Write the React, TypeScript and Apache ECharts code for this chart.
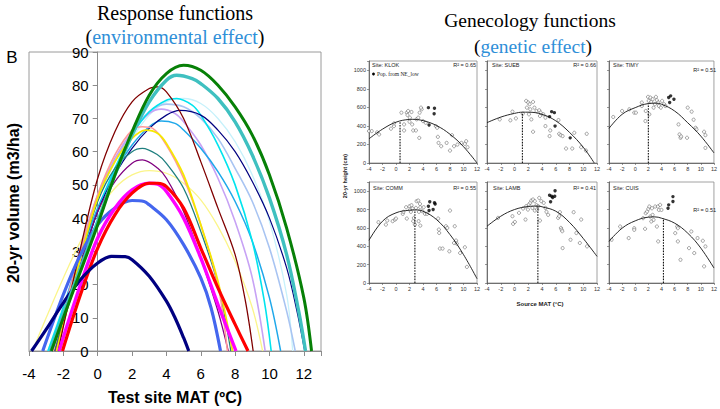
import React, { useEffect, useRef } from 'react';
import * as echarts from 'echarts';

// ---------- Left chart: response functions (Test site MAT vs 20-yr volume) ----------
const greenCurve = [[-2.7,0],[-2,10],[-1,24],[0,38],[1,53],[2,66],[3,77],[4,83.5],[5,86],[6,84.5],[7,80],[8,73.5],[9,65],[10,53],[11,37],[12,16],[12.45,0]];
const tealCurve = [[-2.75,0],[-2,11],[-1,25],[0,39],[1,53],[2,65],[3,75],[4,81.5],[4.6,83],[5.5,82],[6,80.5],[7,76],[8,69],[9,59],[10,46],[11,29],[11.7,12],[12.1,0]];
const brownCurve = [[-2.3,0],[-1,31],[0,52],[1,66],[2,75],[3,79],[3.5,79.5],[4,78],[5,70],[6,57],[7,43],[8,29],[8.6,15],[9.05,0]];
const cyanCurve = [[-2.9,0],[-2,13],[-1,28],[0,42],[1,55],[2,65],[3,72],[4,75.5],[4.6,76],[5.5,74],[6,71],[7,62],[8,50],[9,33],[9.7,15],[10.1,0]];
const paleCyanCurve = [[-2.9,0],[-1,29],[0,43],[1,55],[2,64],[3,71],[4,75],[5,76],[6,74.5],[7,70],[8,63],[9,53],[10,39],[11,17],[11.35,0]];
const steelCurve = [[-2.7,0],[-1,30],[0,46],[1,57],[2,66],[3,72],[4,74.3],[5,73.5],[6,70],[7,64],[8,55],[9,45],[10,31],[11,12],[11.5,0]];
const lavenderCurve = [[-2.6,0],[-1,31],[0,47],[1,58],[2,66],[3,71.5],[3.7,72.8],[4.5,71.5],[5,69],[6,62],[7,52],[8,39],[9,22],[9.75,0]];
const navyThinCurve = [[-2.5,0],[-1,26],[0,42],[1,53],[2,61],[3,67],[4,71],[4.8,72.4],[6,71],[7,66.5],[8,60],[9,51],[10,40],[11,25],[11.6,12],[12.05,0]];
const skyCurve = [[-2.8,0],[-2,13],[-1,29],[0,43],[1,54],[2,62],[3,67.5],[3.7,69.2],[4.5,68.5],[5,66.5],[6,61],[7,54],[8,45],[9,33],[10,16],[10.65,0]];
const salmonCurve = [[-2.6,0],[-1,30],[0,47],[1,59],[2,66.5],[2.6,67.5],[3.2,67],[4,62],[5,52],[6,38],[7,20],[7.55,0]];
const yellowCurve = [[-2.4,0],[-1,28],[0,46],[1,57],[2,64],[2.8,66.5],[3.5,65.5],[4,62.5],[5,53],[6,38],[7,21],[7.85,0]];
const darkTealCurve = [[-2.5,0],[-1,28],[0,45],[1,55],[2,60],[2.6,61],[3.5,59],[4,56.5],[5,49],[6,36],[7,20],[7.75,0]];
const purpleCurve = [[-2.45,0],[-1,26],[0,42],[1,51],[2,56.5],[2.6,57.5],[3.5,55],[4,52],[5,42],[6,28],[7,12],[7.6,0]];
const paleYellowCurve = [[-3.8,0],[-3,10],[-2,22],[-1,33],[0,42],[1,49],[2,53],[3,54.3],[4,53.5],[5,50.5],[6,45.5],[7,37.5],[8,27],[9,13],[9.6,0]];
const magentaCurve = [[-2.25,0],[-1,20],[0,34],[1,43],[2,48.5],[3,50.5],[3.5,50.2],[4,48],[5,40],[6,28],[7,14],[8.05,0]];
const redCurve = [[-2.05,0],[-1,17],[0,31],[1,41],[2,47.5],[3,50.5],[3.5,50.5],[4,49.5],[5,43],[6,31],[7,19],[8,8],[8.75,0]];
const royalCurve = [[-3.2,0],[-2,17],[-1,29],[0,38],[1,43],[2,45.3],[2.7,45],[3,44],[4,39.5],[5,32],[6,22],[6.6,13],[7.15,0]];
const navyThickCurve = [[-3.85,0],[-3,6.5],[-2,14.5],[-1,21.5],[0,26.5],[0.8,28.5],[1.6,28.4],[2,27.5],[3,22.5],[4,15],[4.5,10],[5,4],[5.3,0]];

// ---------- Right panels: genecology functions ----------
const klokCurve = [[-4,261],[-2,365],[0,440],[2,470],[2.4,471],[4,457],[6,404],[8,310],[10,176],[12,0]];
const klokOpt = [[0.6,0],[0.6,448]];
const klokOpen = [[-4,344],[-3.6,344],[-2.8,330],[-2.5,308],[-0.75,370],[-0.3,398],[-0.3,427],[0.8,543],[1.2,416],[1.2,351],[1.6,543],[1.8,561],[1.7,517],[2.05,489],[2.3,550],[2,445],[2.4,416],[2.55,351],[2.95,351],[3.05,471],[3.3,489],[3.5,543],[3.8,579],[3.7,597],[3.45,271],[4,452],[4.4,434],[5.9,398],[6.1,380],[6.2,282],[6.3,217],[6.7,181],[7.5,217],[8,134],[8.3,300],[8.6,181],[9.1,199],[9.7,217],[10.2,206],[10.4,235],[10.6,170]];
const klokFilled = [[4.8,597],[5.7,590],[5.65,532],[4.9,409]];

const suebCurve = [[-4,435],[-2,495],[0,535],[1.2,548],[2,548],[4,525],[6,455],[8,330],[10,170],[11.6,0]];
const suebOpt = [[1.15,0],[1.15,545]];
const suebOpen = [[-2.15,470],[-0.6,460],[-0.3,554],[0.2,481],[1.2,532],[1.7,670],[2,652],[2.2,634],[1.8,597],[2.3,579],[2.7,659],[2.9,597],[2.1,525],[2.45,470],[2.7,337],[3.2,561],[3.6,568],[3.8,543],[3.7,507],[4.2,525],[4.5,489],[4.5,398],[5.1,290],[5.2,351],[6.4,463],[6.5,315],[6.7,300],[7,290],[7.5,156],[8.4,156],[8.7,326],[9.7,170],[10.5,315],[10.4,134]];
const suebFilled = [[5.4,554],[5.8,543],[5.1,500],[5.9,398],[8.1,271]];

const timyCurve = [[-4,373],[-2,525],[0,597],[2,641],[3,645],[4,634],[6,561],[8,434],[10,290],[12,109]];
const timyOpt = [[2,0],[2,641]];
const timyOpen = [[-3.35,496],[-2,561],[-0.9,579],[-0.15,543],[0.1,543],[1,652],[1,615],[1.55,452],[1.6,561],[1.95,713],[2.05,670],[2.15,525],[2.3,706],[2.45,659],[2.65,688],[2.8,597],[3,634],[3.15,713],[3.3,677],[3.5,652],[3.6,615],[3.9,597],[4.1,670],[4.4,634],[4.6,615],[6.6,416],[6.75,308],[6.9,272],[7,286],[7.9,272],[8,597],[8.6,554],[8.9,467],[9.2,380],[9.35,362],[10.5,337],[10.7,300],[10.7,163]];
const timyFilled = [[5.1,706],[5.4,724],[5.9,688],[5.25,652]];

const commCurve = [[-4,465],[-2,673],[0,764],[2,793],[2.8,796],[4,782],[6,691],[8,527],[10,309],[12,47]];
const commOpt = [[2.8,0],[2.8,795]];
const commOpen = [[-2.6,662],[-1.5,636],[-1.3,680],[-0.5,673],[-0.15,691],[0,702],[1,753],[1.1,775],[1.5,825],[1.6,702],[2,836],[2.1,800],[2.2,775],[2.3,847],[2.45,811],[2.55,673],[2.65,709],[2.8,636],[2.95,818],[3.05,891],[3.3,898],[3.4,775],[3.55,862],[3.6,825],[3.35,673],[3.6,625],[3.9,782],[4.1,825],[4.3,753],[4.6,753],[6.25,702],[6.35,582],[6.4,545],[6.5,375],[6.9,375],[7.4,618],[7.6,600],[7.9,345],[8,789],[8.6,436],[8.7,618],[8.9,462],[9,429],[9.5,327],[10.2,389],[10.5,175]];
const commFilled = [[5,884],[4.8,836],[5.7,873],[5.5,800],[4.9,789],[5.8,860]];

const lambCurve = [[-4,618],[-2,727],[0,800],[2,833],[3.4,838],[4,830],[6,782],[8,660],[10,485],[12,290]];
const lambOpt = [[3.4,0],[3.4,836]];
const lambOpen = [[-2.4,709],[-0.3,727],[-0.2,644],[0.05,665],[0.65,764],[1.25,811],[1.6,691],[1.7,836],[1.95,800],[2.1,855],[2.3,873],[2.45,898],[2.6,818],[2.7,909],[2.95,891],[2.95,789],[3.2,847],[3.3,800],[3.45,836],[3.6,927],[3.7,680],[3.9,891],[4.25,873],[4.5,818],[4.65,775],[4.9,742],[6.35,709],[6.6,771],[6.5,727],[6.75,600],[6.85,582],[6.95,564],[7,380],[8.15,471],[8.6,771],[9,544],[9.5,436],[9.7,691],[10.55,399]];
const lambFilled = [[5.1,956],[5.25,884],[5.55,931],[5.9,1004],[5.4,945],[5.85,945]];

const cuisCurve = [[-4,453],[-2,597],[0,677],[2,717],[3,720],[4,706],[6,652],[8,543],[10,380],[12,163]];
const cuisOpt = [[4.3,0],[4.3,705]];
const cuisOpen = [[-3.6,471],[-2.3,615],[-1,489],[-0.15,597],[-0.15,579],[1.2,706],[1.5,590],[1.6,760],[1.8,778],[2,807],[2.15,833],[2.3,724],[2.45,670],[2.55,814],[2.65,742],[2.8,688],[3.05,833],[3.3,615],[3.45,833],[3.6,796],[3.8,851],[3.5,453],[4,796],[6.1,543],[6.4,615],[6.5,597],[6.5,453],[6.9,253],[8.55,561],[8.2,380],[9,326],[9.5,489],[10.3,460],[10.7,398],[10.5,181]];
const cuisFilled = [[5,814],[5.1,851],[5.75,887],[5.75,941]];

const panelSites = ['KLOK', 'SUEB', 'TIMY', 'COMM', 'LAMB', 'CUIS'];
const panelR2 = ['0.65', '0.66', '0.51', '0.55', '0.41', '0.51'];

const SANS = 'Liberation Sans, Arial, sans-serif';
const SERIF = 'Liberation Serif, Times New Roman, serif';

export default function App() {
  const ref = useRef<HTMLDivElement>(null);
  useEffect(() => {
    if (!ref.current) return;
    const chart = echarts.init(ref.current, undefined, { renderer: 'svg' });

    const responseLines: [number[][], string, number][] = [
      [paleYellowCurve, '#fbf58a', 1.3],
      [paleCyanCurve, '#c6f1fb', 1.3],
      [steelCurve, '#a8c4f2', 1.6],
      [lavenderCurve, '#c7a2f5', 1.6],
      [skyCurve, '#1fa8ea', 1.5],
      [cyanCurve, '#00e4ee', 1.6],
      [navyThinCurve, '#000080', 1.2],
      [darkTealCurve, '#1f7f7f', 1.3],
      [purpleCurve, '#800080', 1.3],
      [salmonCurve, '#ff9a9a', 1.6],
      [yellowCurve, '#f5e800', 1.8],
      [brownCurve, '#800000', 1.3],
      [royalCurve, '#4466ee', 3.2],
      [magentaCurve, '#ff00ff', 3.4],
      [redCurve, '#ff0000', 3.2],
      [navyThickCurve, '#000080', 3.2],
      [tealCurve, '#3fc0c0', 3.4],
      [greenCurve, '#078007', 3.0],
    ];

    const gridLeft = 29;
    const gridWidth = 292;
    const xMin = -4;
    const xMax = 13;
    const zeroOffset = -((0 - xMin) / (xMax - xMin)) * gridWidth;

    const grids: any[] = [{ left: gridLeft, top: 52, width: gridWidth, height: 299, show: true, borderColor: '#9a9a9a', borderWidth: 1 }];
    const panelLefts = [369, 487, 609];
    const panelWidths = [108, 110, 108];
    const panelTops = [61, 182];
    const panelHeights = [102, 101];
    for (let r = 0; r < 2; r++) {
      for (let c = 0; c < 3; c++) {
        grids.push({ left: panelLefts[c], top: panelTops[r], width: panelWidths[c], height: panelHeights[r], show: true, borderColor: '#8a8a8a', borderWidth: 0.8 });
      }
    }

    const xAxes: any[] = [{
      gridIndex: 0, type: 'value', min: xMin, max: xMax, interval: 2,
      axisLine: { onZero: false, lineStyle: { color: '#8c8c8c', width: 1 } },
      axisTick: { length: 5, lineStyle: { color: '#8c8c8c' } },
      axisLabel: { fontSize: 15, color: '#000', fontFamily: SANS, margin: 15, formatter: (v: number) => (v > 12 ? '' : String(v)) },
      splitLine: { show: false },
    }];
    const yAxes: any[] = [{
      gridIndex: 0, type: 'value', min: 0, max: 90, interval: 10, position: 'left', offset: zeroOffset,
      axisLine: { onZero: false, lineStyle: { color: '#8c8c8c', width: 1 } },
      axisTick: { length: 5, lineStyle: { color: '#8c8c8c' } },
      axisLabel: { fontSize: 15, color: '#000', fontFamily: SANS, margin: 9 },
      splitLine: { show: false },
    }];
    for (let i = 0; i < 6; i++) {
      const showY = i === 0 || i === 3;
      xAxes.push({
        gridIndex: i + 1, type: 'value', min: -4, max: 12, interval: 2,
        axisLine: { onZero: false, lineStyle: { color: '#555', width: 0.8 } },
        axisTick: { length: 2, lineStyle: { color: '#555', width: 0.6 } },
        axisLabel: { fontSize: 5.5, color: '#333', fontFamily: SANS, margin: 3 },
        splitLine: { show: false },
      });
      yAxes.push({
        gridIndex: i + 1, type: 'value', min: 0, max: 1100, interval: 200,
        axisLine: { onZero: false, lineStyle: { color: '#555', width: 0.8 } },
        axisTick: { length: 2, lineStyle: { color: '#555', width: 0.6 } },
        axisLabel: { show: showY, fontSize: 5.5, color: '#333', fontFamily: SANS, margin: 3, formatter: (v: number) => (v > 1000 ? '' : String(v)) },
        splitLine: { show: false },
      });
    }

    const series: any[] = responseLines.map(([d, color, w]) => ({
      type: 'line', xAxisIndex: 0, yAxisIndex: 0, data: d, smooth: 0.35, showSymbol: false,
      lineStyle: { color, width: w }, silent: true, clip: true,
    }));

    const panels = [
      [klokCurve, klokOpt, klokOpen, klokFilled],
      [suebCurve, suebOpt, suebOpen, suebFilled],
      [timyCurve, timyOpt, timyOpen, timyFilled],
      [commCurve, commOpt, commOpen, commFilled],
      [lambCurve, lambOpt, lambOpen, lambFilled],
      [cuisCurve, cuisOpt, cuisOpen, cuisFilled],
    ];
    panels.forEach(([curve, opt, open, filled], i) => {
      const ax = i + 1;
      series.push({ type: 'line', xAxisIndex: ax, yAxisIndex: ax, data: curve, smooth: 0.4, showSymbol: false, lineStyle: { color: '#111', width: 0.9 }, clip: true });
      series.push({ type: 'line', xAxisIndex: ax, yAxisIndex: ax, data: opt, showSymbol: false, lineStyle: { color: '#111', width: 1.1, type: [1.6, 1.2] } });
      series.push({ type: 'scatter', xAxisIndex: ax, yAxisIndex: ax, data: open, symbol: 'circle', symbolSize: 3.2, itemStyle: { color: '#fff', borderColor: '#444', borderWidth: 0.6 } });
      series.push({ type: 'scatter', xAxisIndex: ax, yAxisIndex: ax, data: filled, symbol: 'circle', symbolSize: 3.4, itemStyle: { color: '#000' } });
    });

    const siteLabelPos = [[372, 65], [492, 65], [613, 65], [373, 188], [493, 188], [613, 188]];
    const r2Pos = [[476, 65], [596, 65], [716, 70], [476, 188], [596, 188], [716, 210]];
    const graphic: any[] = [
      { type: 'text', x: 175, y: 13, style: { text: 'Response functions', fill: '#000', fontSize: 20, fontFamily: SERIF, align: 'center', verticalAlign: 'middle' } },
      { type: 'text', x: 175, y: 37, style: { text: '{a|(}{b|environmental effect}{a|)}', align: 'center', verticalAlign: 'middle', rich: { a: { fill: '#000', fontSize: 20, fontFamily: SERIF }, b: { fill: '#2f8fd8', fontSize: 20, fontFamily: SERIF } } } },
      { type: 'text', x: 530, y: 20, style: { text: 'Genecology functions', fill: '#000', fontSize: 19.5, fontFamily: SERIF, align: 'center', verticalAlign: 'middle' } },
      { type: 'text', x: 533, y: 46, style: { text: '{a|(}{b|genetic effect}{a|)}', align: 'center', verticalAlign: 'middle', rich: { a: { fill: '#000', fontSize: 19.5, fontFamily: SERIF }, b: { fill: '#2f8fd8', fontSize: 19.5, fontFamily: SERIF } } } },
      { type: 'text', x: 12, y: 57, style: { text: 'B', fill: '#000', fontSize: 17, fontFamily: SANS, align: 'center', verticalAlign: 'middle' } },
      { type: 'text', x: 175, y: 397, style: { text: 'Test site MAT (ºC)', fill: '#000', fontSize: 16, fontWeight: 'bold', fontFamily: SANS, align: 'center', verticalAlign: 'middle' } },
      { type: 'text', x: 13, y: 203, rotation: Math.PI / 2, style: { text: '20-yr volume (m3/ha)', fill: '#000', fontSize: 16, fontWeight: 'bold', fontFamily: SANS, align: 'center', verticalAlign: 'middle' } },
      { type: 'text', x: 345, y: 176, rotation: Math.PI / 2, style: { text: '20-yr height (cm)', fill: '#222', fontSize: 5.5, fontWeight: 'bold', fontFamily: SANS, align: 'center', verticalAlign: 'middle' } },
      { type: 'text', x: 540, y: 304, style: { text: 'Source MAT (°C)', fill: '#222', fontSize: 6, fontWeight: 'bold', fontFamily: SANS, align: 'center', verticalAlign: 'middle' } },
      { type: 'circle', shape: { cx: 373.5, cy: 74, r: 1.4 }, style: { fill: '#000' } },
      { type: 'text', x: 377, y: 74, style: { text: 'Pop. from NE_low', fill: '#222', fontSize: 5.5, fontFamily: SERIF, align: 'left', verticalAlign: 'middle' } },
    ];
    panelSites.forEach((s, i) => {
      graphic.push({ type: 'text', x: siteLabelPos[i][0], y: siteLabelPos[i][1], style: { text: 'Site: ' + s, fill: '#222', fontSize: 5.5, fontFamily: SANS, align: 'left', verticalAlign: 'middle' } });
      graphic.push({ type: 'text', x: r2Pos[i][0], y: r2Pos[i][1], style: { text: 'R² = ' + panelR2[i], fill: '#222', fontSize: 5.5, fontFamily: SANS, align: 'right', verticalAlign: 'middle' } });
    });

    chart.setOption({
      animation: false,
      backgroundColor: '#fff',
      grid: grids,
      xAxis: xAxes,
      yAxis: yAxes,
      series,
      graphic,
    });
    return () => chart.dispose();
  }, []);
  return <div ref={ref} style={{ position: 'fixed', left: 0, top: 0, width: 720, height: 409 }} />;
}
